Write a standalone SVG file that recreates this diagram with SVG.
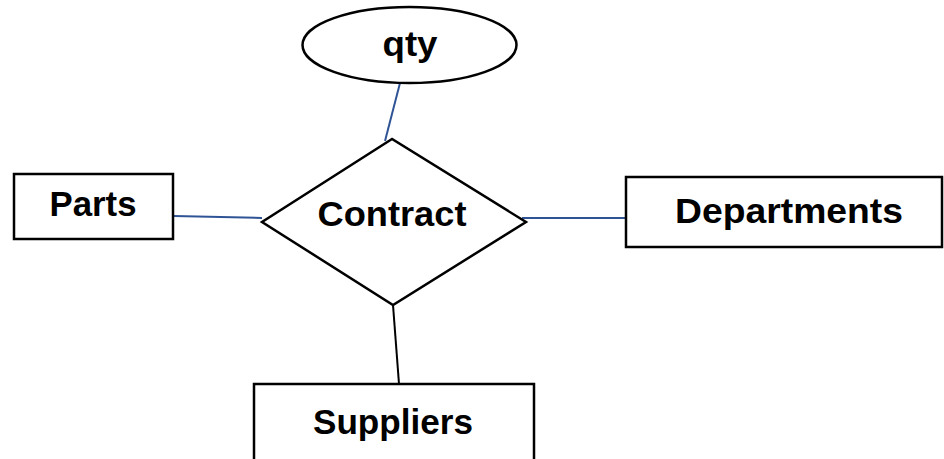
<svg xmlns="http://www.w3.org/2000/svg" width="944" height="459" viewBox="0 0 944 459">
<style>
.shape{fill:#fff;stroke:#000;stroke-width:2.5}
.lbl{font-family:"Liberation Sans",Arial,sans-serif;font-weight:bold;font-size:35px;fill:#000;text-anchor:middle}
.conn{stroke:#2f5496;stroke-width:2;fill:none}
.connk{stroke:#000;stroke-width:2;fill:none}
</style>
<rect width="944" height="459" fill="#fff"/>
<g id="connectors">
<line class="conn" x1="400" y1="83" x2="385" y2="141"/>
<line class="conn" x1="174" y1="216" x2="262" y2="218"/>
<line class="conn" x1="522" y1="218" x2="626" y2="218"/>
<line class="connk" x1="393" y1="305" x2="399" y2="384"/>
</g>
<g id="qty">
<ellipse class="shape" cx="409.5" cy="45" rx="107" ry="38"/>
<text class="lbl" x="410" y="56" textLength="55" lengthAdjust="spacingAndGlyphs">qty</text>
</g>
<g id="contract">
<polygon class="shape" points="392,139 262,222 393,305 526,222"/>
<text class="lbl" x="392" y="226" textLength="149" lengthAdjust="spacingAndGlyphs">Contract</text>
</g>
<g id="parts">
<rect class="shape" x="14" y="174" width="159" height="65"/>
<text class="lbl" x="93" y="216" textLength="87" lengthAdjust="spacingAndGlyphs">Parts</text>
</g>
<g id="departments">
<rect class="shape" x="626" y="177" width="316" height="70"/>
<text class="lbl" x="789" y="223" textLength="228" lengthAdjust="spacingAndGlyphs">Departments</text>
</g>
<g id="suppliers">
<rect class="shape" x="254" y="384" width="280" height="90"/>
<text class="lbl" x="393" y="434" textLength="160" lengthAdjust="spacingAndGlyphs">Suppliers</text>
</g>
</svg>
